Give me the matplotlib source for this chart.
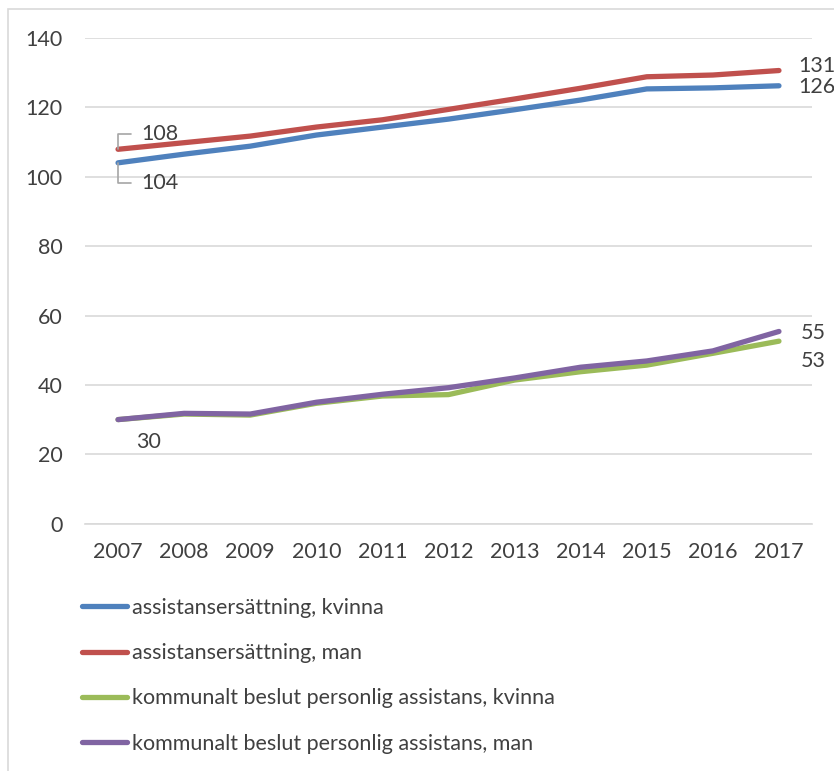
import matplotlib
matplotlib.use("Agg")
import matplotlib.pyplot as plt
from matplotlib.patches import Rectangle

plt.rcParams['font.family'] = ['Lato', 'DejaVu Sans']

years = ['2007', '2008', '2009', '2010', '2011', '2012', '2013', '2014', '2015', '2016', '2017']
ass_kvinna = [104.0, 106.5, 108.8, 112.0, 114.3, 116.6, 119.3, 122.1, 125.3, 125.6, 126.2]
ass_man = [107.9, 109.8, 111.7, 114.3, 116.4, 119.4, 122.4, 125.5, 128.8, 129.3, 130.6]
kom_kvinna = [30.0, 31.6, 31.3, 34.7, 36.8, 37.2, 41.4, 43.8, 45.7, 49.1, 52.6]
kom_man = [30.0, 31.8, 31.6, 35.0, 37.3, 39.2, 42.0, 45.1, 46.9, 49.8, 55.4]

series_labels = ['assistansersättning, kvinna', 'assistansersättning, man',
                 'kommunalt beslut personlig assistans, kvinna',
                 'kommunalt beslut personlig assistans, man']
colors = ['#4F81BD', '#C0504D', '#9BBB59', '#8064A2']
yticks = [0, 20, 40, 60, 80, 100, 120, 140]

txt = '#404040'
fs = 15.5

fig = plt.figure(figsize=(8.34, 7.71), dpi=100)
fig.patches.append(Rectangle((8/834, -0.02), 1.05, 0.02 + (771-9)/771, transform=fig.transFigure,
                             fill=False, edgecolor='#d9d9d9', linewidth=1.2))

ax = fig.add_axes([85/834, (771-523.7)/771, (812-85)/834, (523.7-37.9)/771])
x = list(range(len(years)))
data = [ass_kvinna, ass_man, kom_kvinna, kom_man]
handles = []
for vals, c, lab in zip(data, colors, series_labels):
    h, = ax.plot(x, vals, color=c, linewidth=3.8, solid_capstyle='round', label=lab, zorder=3)
    handles.append(h)

ax.set_xlim(-0.5, len(years) - 0.5)
ax.set_ylim(0, 140)
ax.set_yticks(yticks)
ax.set_xticks(x)
ax.set_xticklabels(years)
ax.grid(axis='y', color='#d9d9d9', linewidth=1.2)
ax.set_axisbelow(True)
for s in ['top', 'right', 'left']:
    ax.spines[s].set_visible(False)
ax.spines['bottom'].set_color('#d9d9d9')
ax.spines['bottom'].set_linewidth(1.2)
ax.tick_params(axis='both', length=0, labelsize=fs, labelcolor=txt)
ax.tick_params(axis='y', pad=16)
ax.tick_params(axis='x', pad=13)

lead = dict(arrowstyle='-', color='#a6a6a6', lw=1.2,
            connectionstyle='angle,angleA=0,angleB=90,rad=0',
            shrinkA=6, shrinkB=0, relpos=(0, 0.5))
ax.annotate(f'{ass_man[0]:.0f}', xy=(0, ass_man[0]), xytext=(17, 11), textcoords='offset points',
            fontsize=fs, color=txt, va='center', ha='left', arrowprops=lead)
ax.annotate(f'{ass_kvinna[0]:.0f}', xy=(0, ass_kvinna[0]), xytext=(17, -14.5), textcoords='offset points',
            fontsize=fs, color=txt, va='center', ha='left', arrowprops=lead)
ax.annotate(f'{kom_man[0]:.0f}', xy=(0, kom_man[0]), xytext=(13, -16), textcoords='offset points',
            fontsize=fs, color=txt, va='center', ha='left')
last = len(years) - 1
ax.annotate(f'{ass_man[last]:.0f}', xy=(last, ass_man[last]), xytext=(14, 3), textcoords='offset points',
            fontsize=fs, color=txt, va='center', ha='left')
ax.annotate(f'{ass_kvinna[last]:.0f}', xy=(last, ass_kvinna[last]), xytext=(14, -1), textcoords='offset points',
            fontsize=fs, color=txt, va='center', ha='left')
ax.annotate(f'{kom_man[last]:.0f}', xy=(last, kom_man[last]), xytext=(16, -1), textcoords='offset points',
            fontsize=fs, color=txt, va='center', ha='left')
ax.annotate(f'{kom_kvinna[last]:.0f}', xy=(last, kom_kvinna[last]), xytext=(16, -14), textcoords='offset points',
            fontsize=fs, color=txt, va='center', ha='left')

leg = fig.legend(handles=handles, loc='upper left', bbox_to_anchor=(82/834, (771-598)/771),
                 frameon=False, fontsize=fs, handlelength=2.1, handletextpad=0.2,
                 labelspacing=1.17, borderaxespad=0, borderpad=0)
for t in leg.get_texts():
    t.set_color(txt)

fig.savefig('out.png', dpi=100)
